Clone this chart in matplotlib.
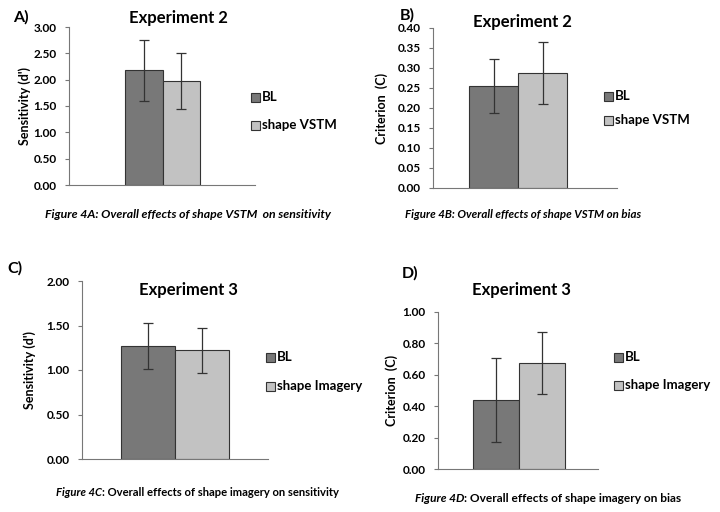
import matplotlib
matplotlib.use("Agg")
import matplotlib.pyplot as plt

plt.rcParams['font.family'] = ['Lato', 'DejaVu Sans']

conditions_exp2 = ["BL", "shape VSTM"]
conditions_exp3 = ["BL", "shape Imagery"]

sens_exp2 = [2.18, 1.98]
sens_exp2_err = [0.58, 0.53]
crit_exp2 = [0.255, 0.288]
crit_exp2_err = [0.068, 0.078]
sens_exp3 = [1.27, 1.22]
sens_exp3_err = [0.255, 0.255]
crit_exp3 = [0.44, 0.675]
crit_exp3_err = [0.27, 0.195]

panel_titles = ["Experiment 2", "Experiment 2", "Experiment 3", "Experiment 3"]
panel_letters = ["A)", "B)", "C)", "D)"]
ylabels = ["Sensitivity (d')", "Criterion  (C)", "Sensitivity (d')", "Criterion  (C)"]

W, H = 720, 512
fig = plt.figure(figsize=(W / 100, H / 100), dpi=100)
fig.patch.set_facecolor("white")

colors = ["#787878", "#c2c2c2"]
edge = "#333333"

def px_axes(l, r, t, b):
    return fig.add_axes([l / W, 1 - b / H, (r - l) / W, (b - t) / H])

panels = [
    dict(box=(69, 255, 27, 185), bars=(125, 200), ylim=(0, 3.0), step=0.5,
         vals=sens_exp2, errs=sens_exp2_err, conds=conditions_exp2,
         title_xy=(178, 18), letter_xy=(13, 17), ylab_x=25,
         leg_xy=(251, 97), leg_gap=28),
    dict(box=(433, 617, 28, 188), bars=(469, 567), ylim=(0, 0.40), step=0.05,
         vals=crit_exp2, errs=crit_exp2_err, conds=conditions_exp2,
         title_xy=(522, 22), letter_xy=(400, 15), ylab_x=382,
         leg_xy=(604, 96), leg_gap=24),
    dict(box=(82, 268, 281, 459), bars=(121, 229), ylim=(0, 2.0), step=0.5,
         vals=sens_exp3, errs=sens_exp3_err, conds=conditions_exp3,
         title_xy=(188, 290), letter_xy=(7, 268), ylab_x=30,
         leg_xy=(266, 357), leg_gap=29),
    dict(box=(438, 598, 312, 469), bars=(473, 565), ylim=(0, 1.0), step=0.2,
         vals=crit_exp3, errs=crit_exp3_err, conds=conditions_exp3,
         title_xy=(521, 290), letter_xy=(402, 273), ylab_x=392,
         leg_xy=(614, 357), leg_gap=28),
]

for i, p in enumerate(panels):
    l, r, t, b = p["box"]
    ax = px_axes(l, r, t, b)
    bl, br = p["bars"]
    unit = (br - bl) / 2.0
    x = [0, 1]
    ax.bar(x, p["vals"], width=1.0, color=colors, edgecolor=edge, linewidth=0.8, zorder=2)
    ax.errorbar(x, p["vals"], yerr=p["errs"], fmt="none", ecolor="#333333",
                elinewidth=0.9, capsize=3.5, capthick=0.9, zorder=3)
    ax.set_xlim(-0.5 - (bl - l) / unit, 1.5 + (r - br) / unit)
    ax.set_ylim(*p["ylim"])
    n = int(round(p["ylim"][1] / p["step"]))
    ticks = [k * p["step"] for k in range(n + 1)]
    ax.set_yticks(ticks)
    ax.set_yticklabels([f"{v:.2f}" for v in ticks], fontsize=8.5, fontweight="bold")
    ax.set_xticks([])
    for s in ["top", "right"]:
        ax.spines[s].set_visible(False)
    for s in ["left", "bottom"]:
        ax.spines[s].set_color("#777777")
        ax.spines[s].set_linewidth(0.8)
    ax.tick_params(axis="y", direction="out", length=3, width=0.8, color="#777777", pad=6)
    ax.set_facecolor("none")

    fig.text(p["ylab_x"] / W, 1 - ((t + b) / 2) / H, ylabels[i], rotation=90,
             ha="center", va="center", fontsize=9, fontweight="bold")
    fig.text(p["title_xy"][0] / W, 1 - p["title_xy"][1] / H, panel_titles[i],
             ha="center", va="center", fontsize=12, fontweight="bold")
    fig.text(p["letter_xy"][0] / W, 1 - p["letter_xy"][1] / H, panel_letters[i],
             ha="left", va="center", fontsize=11.5, fontweight="bold")

    lx, ly = p["leg_xy"]
    for j, c in enumerate(p["conds"]):
        yy = ly + j * p["leg_gap"]
        fig.patches.append(plt.Rectangle((lx / W, 1 - (yy + 4.5) / H), 9 / W, 9 / H,
                                         transform=fig.transFigure, facecolor=colors[j],
                                         edgecolor=edge, linewidth=0.8))
        fig.text((lx + 11) / W, 1 - yy / H, c, ha="left", va="center",
                 fontsize=9.5, fontweight="bold")

# captions
fig.text(188 / W, 1 - 215 / H, "Figure 4A: Overall effects of shape VSTM  on sensitivity",
         ha="center", va="center", fontsize=8.8, fontweight="bold", style="italic")
fig.text(523 / W, 1 - 215 / H, "Figure 4B: Overall effects of shape VSTM on bias",
         ha="center", va="center", fontsize=8.3, fontweight="bold", style="italic")

def mixed_caption(x_left, y, head, rest, size):
    t1 = fig.text(x_left / W, 1 - y / H, head, ha="left", va="center",
                  fontsize=size, fontweight="bold", style="italic")
    fig.canvas.draw()
    bb = t1.get_window_extent()
    fig.text(bb.x1 / W, 1 - y / H, rest, ha="left", va="center",
             fontsize=size, fontweight="bold")

mixed_caption(56, 493, "Figure 4C", ": Overall effects of shape imagery on sensitivity", 8.1)
mixed_caption(415, 499, "Figure 4D", ": Overall effects of shape imagery on bias", 8.6)

fig.savefig("out.png", dpi=100, facecolor="white")
